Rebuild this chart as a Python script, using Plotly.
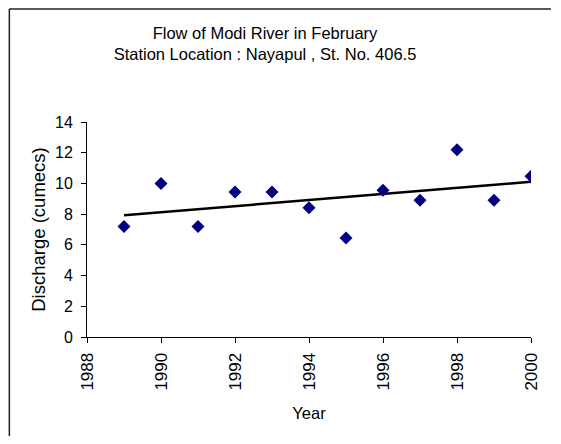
import numpy as np
import plotly.graph_objects as go

# ── Data ──────────────────────────────────────────────────────────────────────
years     = [1989, 1990, 1991, 1992, 1993, 1994, 1995, 1996, 1997, 1998, 1999, 2000]
discharge = [7.2, 10.0, 7.2, 9.45, 9.45, 8.42, 6.45, 9.55, 8.9, 12.2, 8.9, 10.46]

x_ticks = [1988, 1990, 1992, 1994, 1996, 1998, 2000]
y_ticks = [0, 2, 4, 6, 8, 10, 12, 14]

FONT = "Liberation Sans, Arial, sans-serif"
NAVY = "#000080"

# linear trend line (least squares, as Excel does)
slope, icpt = np.polyfit(years, discharge, 1)
trend_x = [years[0], years[-1]]
trend_y = [slope * x + icpt for x in trend_x]

# plot area in page pixels (page has an 8px body offset, keep figure inside window)
L, T, PW, PH = 79, 114, 446, 215
W, H = 545, 428

fig = go.Figure()
fig.add_trace(go.Scatter(
    x=trend_x, y=trend_y, mode="lines",
    line=dict(color="black", width=2.5), showlegend=False, hoverinfo="skip"
))
fig.add_trace(go.Scatter(
    x=years, y=discharge, mode="markers",
    marker=dict(symbol="diamond", size=10, color=NAVY), showlegend=False
))

# outer chart border: only the top and left edges show in the picture
x_left = (1 - L) / PW
y_top = (T - 1) / PH + 1
border = dict(color="#222222", width=1.5)
fig.add_shape(type="line", xref="paper", yref="paper",
              x0=x_left, x1=(W - L) / PW, y0=y_top, y1=y_top, line=border)
fig.add_shape(type="line", xref="paper", yref="paper",
              x0=x_left, x1=x_left, y0=y_top, y1=-(H - T - PH) / PH, line=border)

fig.update_layout(
    width=W, height=H,
    margin=dict(l=L, r=W - L - PW, t=T, b=H - T - PH),
    paper_bgcolor="white", plot_bgcolor="white",
    font=dict(family=FONT, size=15, color="black"),
    title=dict(
        text="Flow of Modi River in February<br>Station Location : Nayapul , St. No. 406.5",
        x=257 / W, xanchor="center", y=1 - 31 / H, yanchor="top",
        font=dict(family=FONT, size=16.5, color="black")
    ),
    xaxis=dict(
        range=[1988, 2000], tickvals=x_ticks, tickangle=-90,
        tickfont=dict(size=17), ticklabelstandoff=3,
        showgrid=False, zeroline=False, showline=True, linecolor="black",
        linewidth=1, ticks="outside", ticklen=5, tickcolor="black",
        title=dict(text="Year", standoff=17, font=dict(size=16.5))
    ),
    yaxis=dict(
        range=[0, 14], tickvals=y_ticks,
        tickfont=dict(size=16), ticklabelstandoff=5,
        showgrid=False, zeroline=False, showline=True, linecolor="black",
        linewidth=1, ticks="outside", ticklen=5, tickcolor="black",
        title=dict(text="Discharge (cumecs)", standoff=4, font=dict(size=18.5))
    ),
)

fig.write_html("out.html")
